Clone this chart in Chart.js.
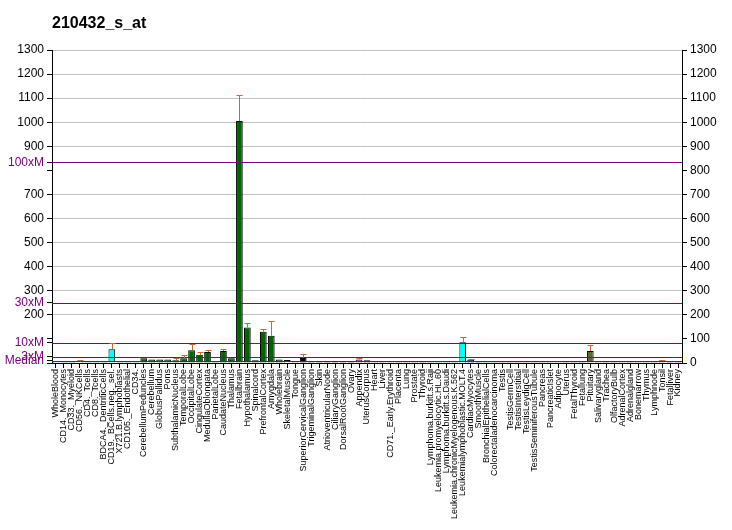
<!DOCTYPE html>
<html>
<head>
<meta charset="utf-8">
<script src="https://cdn.jsdelivr.net/npm/chart.js@4/dist/chart.umd.min.js"></script>
<style>
  body { margin: 0; background: #fff; }
  canvas { display: block; }
</style>
</head>
<body>
<canvas id="chart" width="732" height="530"></canvas>
<script>
const chartTitle = '210432_s_at'

const tissues = [
  'WholeBlood', 'CD14._Monocytes', 'CD33._Myeloid', 'CD56._NKCells', 'CD4._Tcells', 'CD8._Tcells',
  'BDCA4._DentriticCells', 'CD19._BCells.neg._sel.', 'X721.B.lymphoblasts', 'CD105._Endothelial', 'CD34.',
  'CerebellumPeduncles', 'Cerebellum', 'GlobusPallidus', 'Pons', 'SubthalamicNucleus', 'TemporalLobe',
  'OccipitalLobe', 'CingulateCortex', 'MedullaOblongata', 'ParietalLobe', 'CaudateNucleus', 'Thalamus',
  'Fetalbrain', 'Hypothalamus', 'Spinalcord', 'PrefrontalCortex', 'Amygdala', 'Wholebrain',
  'SkeletalMuscle', 'Tongue', 'SuperiorCervicalGanglion', 'TrigeminalGanglion', 'Skin',
  'AtrioventricularNode', 'CiliaryGanglion', 'DorsalRootGanglion', 'Ovary', 'Appendix', 'UterusCorpus',
  'Heart', 'Liver', 'CD71._Early.Erythroid', 'Placenta', 'Lung', 'Prostate', 'Thyroid',
  'Lymphoma.burkitt.s.Raji', 'Leukemia.promyelocytic.HL.60', 'Lymphoma.burkitt.s.Daudi',
  'Leukemia.chronicMyelogenous.K.562', 'Leukemialymphoblastic.MOLT.4', 'CardiacMyocytes', 'SmoothMuscle',
  'BronchialEpithelialCells', 'Colorectaladenocarcinoma', 'Testis', 'TestisGermCell', 'TestisInterstitial',
  'TestisLeydigCell', 'TestisSeminiferousTubule', 'Pancreas', 'PancreaticIslet', 'Adipocyte', 'Uterus',
  'FetalThyroid', 'Fetallung', 'Pituitary', 'Salivarygland', 'Trachea', 'OlfactoryBulb', 'AdrenalCortex',
  'Adrenalgland', 'Bonemarrow', 'Thymus', 'Lymphnode', 'Tonsil', 'Fetalliver', 'Kidney'
]

const values = [
  6, 5, 5, 7, 5, 5, 5, 57, 5, 5, 5,
  20, 15, 15, 15, 11, 20, 53, 34, 46, 6, 50, 20, 1005, 147, 11, 130, 113, 15,
  12, 5, 21, 5, 5, 5, 5, 5, 5, 15, 11,
  5, 5, 5, 5, 5, 5, 5, 5, 5, 5, 5, 86, 15, 5,
  5, 5, 5, 5, 5, 5, 5, 5, 5, 5, 5,
  5, 5, 50, 5, 5, 5, 5, 5, 5, 5, 5, 10, 5, 5
]

// upper end of each error bar, null where none is drawn
const errTops = [
  null, null, null, 11, null, null, null, 85, null, null, null,
  null, null, null, null, 21, 32, 78, 45, 53, null, 57, null, 1112, 165, null, 140, 174, null,
  null, null, 36, null, null, null, null, null, null, 21, null,
  null, null, null, null, null, null, null, null, null, null, null, 107, 18, null,
  null, null, null, null, null, null, null, null, null, null, null,
  null, null, 75, null, null, null, null, null, null, null, null, 13, null, null
]

const barColors = [
  '#00ffff', '#00ffff', '#00ffff', '#00ffff', '#00ffff', '#00ffff', '#00ffff', '#00ffff', '#00ffff', '#00ffff', '#00ffff',
  '#006400', '#006400', '#006400', '#006400', '#006400', '#006400', '#006400', '#006400', '#006400', '#006400',
  '#006400', '#006400', '#006400', '#006400', '#006400', '#006400', '#006400', '#006400',
  '#fff0f0', '#ffc0cb', '#000000', '#000000', '#000000', '#000000', '#000000', '#000000', '#000000', '#9932cc', '#990033',
  '#f08080', '#808080', '#adff2f', '#ff7f50', '#fa8072', '#7b68ee', '#dc143c',
  '#00ffff', '#00ffff', '#00ffff', '#00ffff', '#00ffff', '#000080', '#0000cd',
  '#008080', '#20b2aa', '#e08020', '#e08020', '#e08020', '#e08020', '#e08020', '#bc8f8f', '#d8bfd8', '#7fffd4', '#800000',
  '#cc00cc', '#483d8b', '#556b2f', '#ff8c00', '#4b0082', '#2f4f4f', '#ffb6c1',
  '#8b4513', '#8fbc8f', '#8fbc8f', '#a9a9a9', '#663399', '#8b008b', '#b22222'
]

const median = 8.33
const mFactors = [1, 3, 10, 30, 100]
const mLabels = ['Median', '3xM', '10xM', '30xM', '100xM']
const hiddenTicks = [0, 100, 800]
const yMax = 1300
const yStep = 100

const fontFamily = '"Liberation Sans", Arial, sans-serif'
const purple = '#800080'

const mValues = mFactors.map(f => f * median)
const stepTicks = []
for (let v = 0; v <= yMax; v += yStep) stepTicks.push(v)

function mIndex(v) {
  return mValues.findIndex(m => Math.abs(m - v) < 1e-6)
}

// title drawn top left, like the original
const titlePlugin = {
  id: 'titleText',
  afterDraw(chart) {
    const ctx = chart.ctx
    ctx.save()
    ctx.font = 'bold 16px ' + fontFamily
    ctx.fillStyle = '#000'
    ctx.textBaseline = 'alphabetic'
    ctx.fillText(chartTitle, chart.chartArea.left, 28)
    ctx.restore()
  }
}

// multiples of the median, drawn over the bars
const medianLines = {
  id: 'medianLines',
  afterDatasetsDraw(chart) {
    const { ctx, chartArea, scales: { y } } = chart
    ctx.save()
    ctx.strokeStyle = purple
    ctx.lineWidth = 1
    mValues.forEach(v => {
      const py = Math.round(y.getPixelForValue(v)) + 0.5
      ctx.beginPath()
      ctx.moveTo(chartArea.left, py)
      ctx.lineTo(chartArea.right, py)
      ctx.stroke()
    })
    ctx.restore()
  }
}

const errorBars = {
  id: 'errorBars',
  afterDatasetsDraw(chart) {
    const { ctx, scales: { x, y } } = chart
    ctx.save()
    ctx.strokeStyle = '#cc6633'
    ctx.lineWidth = 1
    errTops.forEach((top, i) => {
      if (top == null) return
      const px = Math.round(x.getPixelForValue(i)) + 0.5
      const y0 = y.getPixelForValue(values[i])
      const y1 = Math.round(y.getPixelForValue(top)) + 0.5
      ctx.beginPath()
      ctx.moveTo(px, y0)
      ctx.lineTo(px, y1)
      ctx.moveTo(px - 3, y1)
      ctx.lineTo(px + 3, y1)
      ctx.stroke()
    })
    ctx.restore()
  }
}

new Chart(document.getElementById('chart'), {
  type: 'bar',
  data: {
    labels: tissues,
    datasets: [{
      data: values,
      backgroundColor: barColors,
      borderColor: '#000',
      borderWidth: 1,
      barPercentage: 0.84,
      categoryPercentage: 1
    }]
  },
  options: {
    responsive: false,
    animation: false,
    layout: { padding: { top: 50, left: 0, right: 0, bottom: 0 } },
    plugins: {
      legend: { display: false },
      tooltip: { enabled: false }
    },
    scales: {
      x: {
        grid: { display: true, drawOnChartArea: false, offset: false, tickLength: 5, color: '#000' },
        border: { color: '#000' },
        ticks: {
          autoSkip: false, minRotation: 90, maxRotation: 90, padding: 1,
          color: '#000', font: { size: 9, family: fontFamily }
        },
        afterFit(s) { s.height = 167 }
      },
      y: {
        position: 'left',
        min: 0, max: yMax,
        afterBuildTicks(s) {
          s.ticks = stepTicks.concat(mValues).sort((a, b) => a - b).map(v => ({ value: v }))
        },
        grid: {
          tickLength: 5,
          color(c) {
            const v = c.tick ? c.tick.value : 0
            if (mIndex(v) >= 0 || hiddenTicks.includes(v)) return 'rgba(0,0,0,0)'
            return '#c0c0c0'
          },
          tickColor: '#000'
        },
        border: { color: '#000' },
        ticks: {
          autoSkip: false, padding: 3,
          font: { size: 12, family: fontFamily },
          color(c) { return mIndex(c.tick.value) >= 0 ? purple : '#000' },
          callback(v) {
            const k = mIndex(v)
            if (k >= 0) return mLabels[k]
            if (hiddenTicks.includes(v)) return ''
            return String(v)
          }
        },
        afterFit(s) { s.width = 52 }
      },
      y2: {
        position: 'right',
        min: 0, max: yMax,
        grid: { drawOnChartArea: false, tickLength: 5, color: '#000' },
        border: { color: '#000' },
        ticks: {
          stepSize: yStep, padding: 3, color: '#000',
          font: { size: 12, family: fontFamily },
          callback(v) { return String(v) }
        },
        afterFit(s) { s.width = 50 }
      }
    }
  },
  plugins: [medianLines, errorBars, titlePlugin]
})
</script>
</body>
</html>
